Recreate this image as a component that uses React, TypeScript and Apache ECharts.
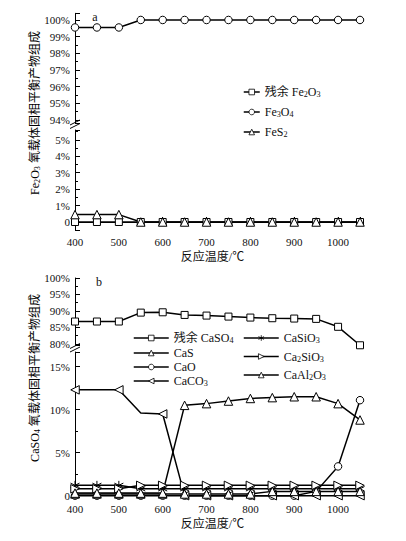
import React, { useEffect, useRef } from "react";
import * as echarts from "echarts";

// ---------- data ----------
const temps = [400, 450, 500, 550, 600, 650, 700, 750, 800, 850, 900, 950, 1000, 1050];

// chart a (Fe2O3 oxygen carrier)
const fe2o3 = [0, 0, 0, 0, 0, 0, 0, 0, 0, 0, 0, 0, 0, 0];
const fe3o4 = [99.55, 99.55, 99.55, 100, 100, 100, 100, 100, 100, 100, 100, 100, 100, 100];
const fes2 = [0.45, 0.45, 0.45, 0, 0, 0, 0, 0, 0, 0, 0, 0, 0, 0];

// chart b (CaSO4 oxygen carrier)
const caSO4 = [86.8, 86.8, 86.8, 89.5, 89.6, 88.8, 88.6, 88.3, 88.0, 87.8, 87.7, 87.6, 85.2, 79.6];
const caS = [0.2, 0.2, 0.2, 0.2, 0.2, 0.2, 0.2, 0.2, 0.2, 0.5, 0.5, 0.5, 0.5, 0.5];
const caO = [0, 0, 0, 0, 0, 0, 0, 0, 0, 0, 0, 0.5, 3.4, 11.1];
const caCO3 = [12.3, 12.3, 12.3, 9.6, 9.5, 0, 0, 0, 0, 0, 0, 0, 0, 0];
const caCO3NoMarker = [450, 550];
const caSiO3 = [1.2, 1.2, 1.2, 0.8, 0.8, 0.8, 0.8, 0.8, 0.8, 0.8, 0.8, 0.8, 0.8, 0.8];
const ca2SiO3 = [0.8, 0.8, 0.8, 1.2, 1.2, 1.2, 1.2, 1.2, 1.2, 1.2, 1.2, 1.2, 1.2, 1.2];
const caAl2O3 = [0.3, 0.3, 0.3, 0.3, 0.3, 10.5, 10.7, 11.0, 11.3, 11.4, 11.5, 11.5, 10.7, 8.8];

const xTickLabels = [400, 500, 600, 700, 800, 900, 1000];

const legendA = ["残余 Fe2O3", "Fe3O4", "FeS2"];
const legendBLeft = ["残余 CaSO4", "CaS", "CaO", "CaCO3"];
const legendBRight = ["CaSiO3", "Ca2SiO3", "CaAl2O3"];

// ---------- helpers ----------
const SERIF = '"Liberation Serif","Times New Roman","Noto Sans CJK SC",serif';
const STAR = "path://M0,-5L0,5M-4.33,-2.5L4.33,2.5M-4.33,2.5L4.33,-2.5";

const toRich = (name: string) =>
  name
    .split(/(\d)/)
    .filter((s) => s !== "")
    .map((s) => (/^\d$/.test(s) ? `{s|${s}}` : `{n|${s}}`))
    .join("");

const richStyles = (fs: number) => ({
  n: { fontFamily: SERIF, fontSize: fs, lineHeight: 14, color: "#111" },
  s: { fontFamily: SERIF, fontSize: fs * 0.68, lineHeight: 9, color: "#111", verticalAlign: "bottom" as const },
});

const isInt = (v: number) => Math.abs(v - Math.round(v)) < 1e-6;

const pct = (step: number) => (v: number) => {
  if (!isInt(v)) return "";
  const r = Math.round(v);
  if (r < 0 || r % step !== 0) return "";
  return r === 0 ? "0" : `${r}%`;
};

const pairs = (arr: number[]) => temps.map((t, i) => [t, arr[i]]);

function lineSeries(
  name: string,
  data: any[],
  idx: number,
  symbol: string,
  size: number,
  rotate = 0
) {
  return {
    type: "line",
    name,
    data,
    xAxisIndex: idx,
    yAxisIndex: idx,
    symbol,
    symbolSize: size,
    symbolRotate: rotate,
    showSymbol: true,
    showAllSymbol: true,
    clip: true,
    lineStyle: { color: "#000", width: 1.5 },
    itemStyle: { color: "#fff", borderColor: "#000", borderWidth: 1 },
    emphasis: { disabled: true },
  };
}

const xAxisBase = (gridIndex: number, visible: boolean) => ({
  type: "value",
  gridIndex,
  min: 400,
  max: 1050,
  interval: 100,
  show: visible,
  axisLine: { lineStyle: { color: "#000", width: 1 } },
  axisTick: { inside: true, length: 5, lineStyle: { color: "#000" } },
  minorTick: { show: true, splitNumber: 2, length: 3, lineStyle: { color: "#000" } },
  splitLine: { show: false },
  axisLabel: {
    color: "#111",
    fontFamily: SERIF,
    fontSize: 11,
    margin: 6,
    formatter: (v: number) => (xTickLabels.indexOf(v) >= 0 ? String(v) : ""),
  },
  name: visible ? "反应温度/℃" : "",
  nameLocation: "middle",
  nameGap: 21,
  nameTextStyle: { color: "#111", fontFamily: SERIF, fontSize: 12, padding: [0, 10, 0, 0] },
});

const yAxisBase = (
  gridIndex: number,
  min: number,
  max: number,
  step: number,
  labelStep: number
) => ({
  type: "value",
  gridIndex,
  min,
  max,
  minInterval: step,
  maxInterval: step,
  axisLine: { show: true, lineStyle: { color: "#000", width: 1 } },
  axisTick: { show: true, inside: true, length: 5, lineStyle: { color: "#000" } },
  minorTick: { show: true, splitNumber: 2, length: 3, lineStyle: { color: "#000" } },
  splitLine: { show: false },
  axisLabel: {
    color: "#111",
    fontFamily: SERIF,
    fontSize: 11,
    margin: 5,
    formatter: pct(labelStep),
  },
});

const legendBase = (data: string[], left: number, top: number, w: number, gap: number) => ({
  data,
  orient: "vertical",
  left,
  top,
  itemWidth: w,
  itemHeight: 7,
  itemGap: gap,
  selectedMode: false,
  itemStyle: { borderWidth: 0.8 },
  lineStyle: { width: 1.5 },
  textStyle: { color: "#111", fontFamily: SERIF, fontSize: 12, rich: richStyles(12) },
  formatter: (name: string) => toRich(name),
});

export default function App() {
  const ref = useRef<HTMLDivElement>(null);

  useEffect(() => {
    document.body.style.margin = "0";
    if (!ref.current) return;
    const chart = echarts.init(ref.current, null, { renderer: "svg" });

    const caCO3Data = temps.map((t, i) =>
      caCO3NoMarker.indexOf(t) >= 0
        ? { value: [t, caCO3[i]], symbol: "none" }
        : { value: [t, caCO3[i]] }
    );

    const option: any = {
      animation: false,
      backgroundColor: "#fff",
      grid: [
        { left: 75, width: 285, top: 13.3, height: 110 },
        { left: 75, width: 285, top: 130, height: 100.2 },
        { left: 75, width: 285, top: 278, height: 67.6 },
        { left: 75, width: 285, top: 352, height: 145.4 },
      ],
      xAxis: [xAxisBase(0, false), xAxisBase(1, true), xAxisBase(2, false), xAxisBase(3, true)],
      yAxis: [
        yAxisBase(0, 93.8, 100.4, 1, 1),
        yAxisBase(1, -0.5, 5.6, 1, 1),
        yAxisBase(2, 79.5, 100, 5, 5),
        yAxisBase(3, -0.2, 16.7, 5, 5),
      ],
      legend: [
        legendBase(legendA, 238, 81, 16, 7),
        legendBase(legendBLeft, 128, 327, 35, 2),
        legendBase(legendBRight, 238, 327, 35, 5.5),
      ],
      series: [
        lineSeries("残余 Fe2O3", pairs(fe2o3), 1, "rect", 7),
        lineSeries("Fe3O4", pairs(fe3o4), 0, "circle", 7.5),
        lineSeries("FeS2", pairs(fes2), 1, "triangle", 8.5),
        lineSeries("残余 CaSO4", pairs(caSO4), 2, "rect", 7),
        lineSeries("CaO", pairs(caO), 3, "circle", 7.5),
        lineSeries("CaCO3", caCO3Data, 3, "triangle", 8.5, 90),
        lineSeries("CaSiO3", pairs(caSiO3), 3, STAR, 9),
        lineSeries("CaS", pairs(caS), 3, "triangle", 8.5),
        lineSeries("Ca2SiO3", pairs(ca2SiO3), 3, "triangle", 8.5, -90),
        lineSeries("CaAl2O3", pairs(caAl2O3), 3, "triangle", 8.5),
      ],
      graphic: [
        {
          type: "text",
          x: 35,
          y: 113,
          rotation: Math.PI / 2,
          style: {
            text: "{n|Fe}{s|2}{n|O}{s|3}{n| 氧载体固相平衡产物组成}",
            rich: richStyles(12),
            align: "center",
            verticalAlign: "middle",
          },
        },
        {
          type: "text",
          x: 35,
          y: 378,
          rotation: Math.PI / 2,
          style: {
            text: "{n|CaSO}{s|4}{n| 氧载体固相平衡产物组成}",
            rich: richStyles(12),
            align: "center",
            verticalAlign: "middle",
          },
        },
        {
          type: "text",
          x: 95,
          y: 17,
          style: { text: "a", font: `12px ${SERIF}`, fill: "#111", align: "center", verticalAlign: "middle" },
        },
        {
          type: "text",
          x: 99,
          y: 282,
          style: { text: "b", font: `12px ${SERIF}`, fill: "#111", align: "center", verticalAlign: "middle" },
        },
        // axis break marks
        { type: "line", shape: { x1: 70, y1: 125, x2: 80, y2: 120 }, style: { stroke: "#000", lineWidth: 1 } },
        { type: "line", shape: { x1: 70, y1: 128.5, x2: 80, y2: 123.5 }, style: { stroke: "#000", lineWidth: 1 } },
        { type: "line", shape: { x1: 70, y1: 348.5, x2: 80, y2: 343.5 }, style: { stroke: "#000", lineWidth: 1 } },
        { type: "line", shape: { x1: 70, y1: 352, x2: 80, y2: 347 }, style: { stroke: "#000", lineWidth: 1 } },
      ],
    };

    chart.setOption(option);
    return () => chart.dispose();
  }, []);

  return <div ref={ref} style={{ width: 406, height: 541 }} />;
}
